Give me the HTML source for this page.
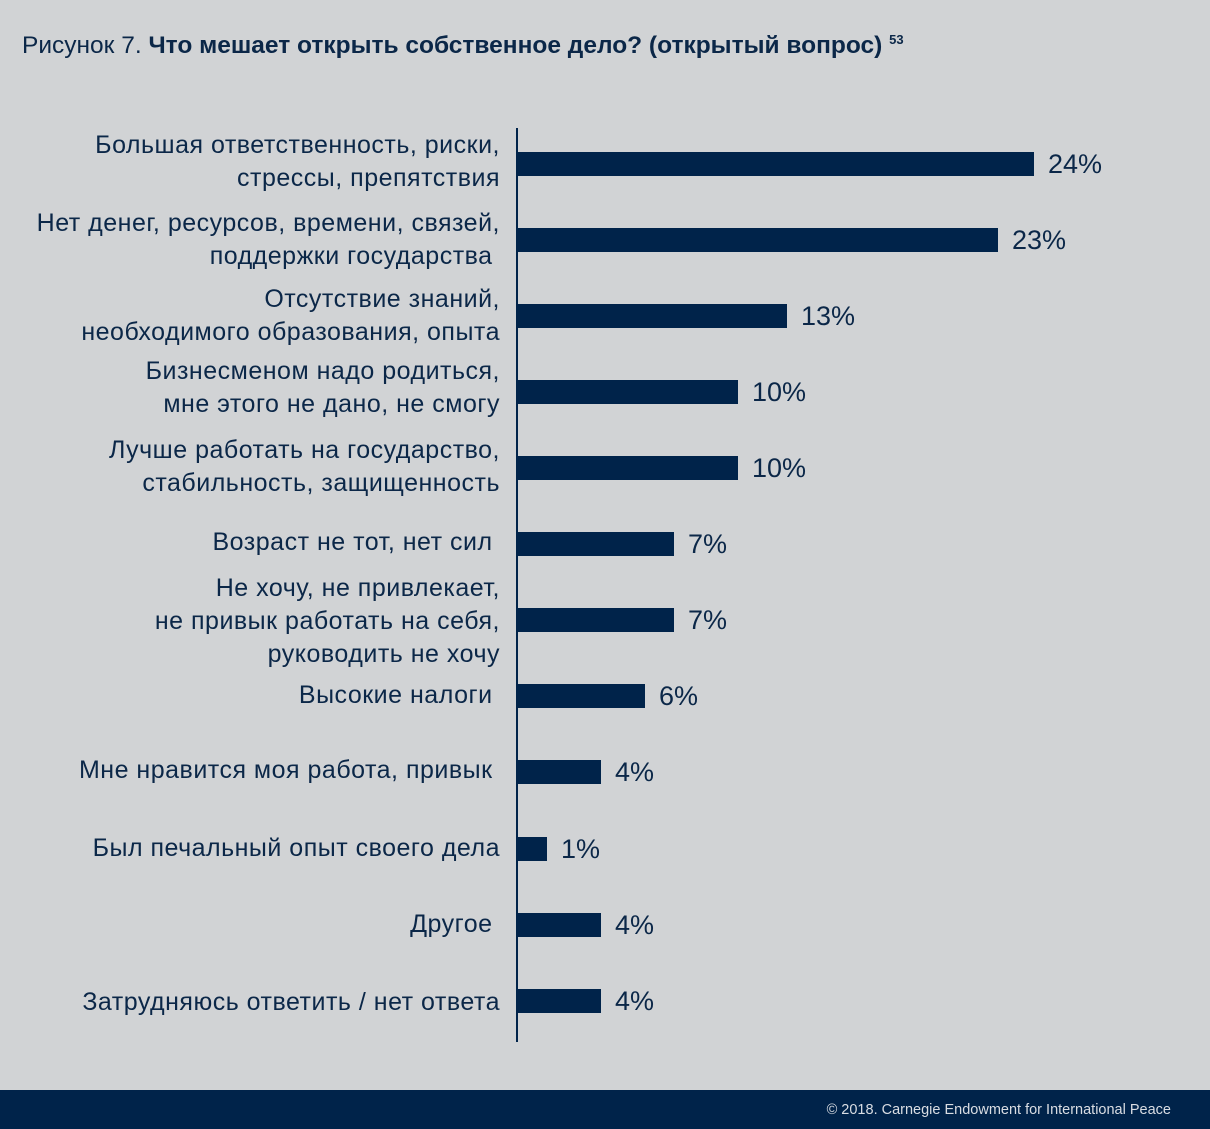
<!DOCTYPE html>
<html><head><meta charset="utf-8"><style>
body{margin:0;width:1210px;height:1129px;background:#d1d3d5;position:relative;overflow:hidden;font-family:"Liberation Sans","DejaVu Sans",sans-serif;color:#0b2748}
.t{position:absolute;left:22px;top:32px;font-size:24.5px;white-space:nowrap}
.l{position:absolute;right:710px;width:520px;height:120px;display:flex;align-items:center;justify-content:flex-end;text-align:right;font-size:25px;letter-spacing:0.5px;line-height:33px;white-space:nowrap}
.b{position:absolute;left:517px;height:24px;background:#00234a}
.v{position:absolute;font-size:27px;height:30px;line-height:30px}
.ax{position:absolute;left:516px;top:128px;width:2px;height:914px;background:#00234a}
.f{position:absolute;left:0;top:1090px;width:1210px;height:39px;background:#00234a;color:#d9dde3;font-size:14.5px}
</style></head><body>
<div class="t">Рисунок 7. <b>Что мешает открыть собственное дело? (открытый вопрос)</b> <sup style="font-size:13px;font-weight:bold">53</sup></div>
<div class="ax"></div>

<div class="l" style="top:102px">Большая ответственность, риски,<br>стрессы, препятствия</div>
<div class="b" style="top:152px;width:517px"></div><div class="v" style="left:1048px;top:149px">24%</div>

<div class="l" style="top:180px">Нет денег, ресурсов, времени, связей,<br>поддержки государства&nbsp;</div>
<div class="b" style="top:228px;width:481px"></div><div class="v" style="left:1012px;top:225px">23%</div>

<div class="l" style="top:256px">Отсутствие знаний,<br>необходимого образования, опыта</div>
<div class="b" style="top:304px;width:270px"></div><div class="v" style="left:801px;top:301px">13%</div>

<div class="l" style="top:328px">Бизнесменом надо родиться,<br>мне этого не дано, не смогу</div>
<div class="b" style="top:380px;width:221px"></div><div class="v" style="left:752px;top:377px">10%</div>

<div class="l" style="top:407px">Лучше работать на государство,<br>стабильность, защищенность</div>
<div class="b" style="top:456px;width:221px"></div><div class="v" style="left:752px;top:453px">10%</div>

<div class="l" style="top:482px">Возраст не тот, нет сил&nbsp;</div>
<div class="b" style="top:532px;width:157px"></div><div class="v" style="left:688px;top:529px">7%</div>

<div class="l" style="top:561px">Не хочу, не привлекает,<br>не привык работать на себя,<br>руководить не хочу</div>
<div class="b" style="top:608px;width:157px"></div><div class="v" style="left:688px;top:605px">7%</div>

<div class="l" style="top:635px">Высокие налоги&nbsp;</div>
<div class="b" style="top:684px;width:128px"></div><div class="v" style="left:659px;top:681px">6%</div>

<div class="l" style="top:710px">Мне нравится моя работа, привык&nbsp;</div>
<div class="b" style="top:760px;width:84px"></div><div class="v" style="left:615px;top:757px">4%</div>

<div class="l" style="top:788px">Был печальный опыт своего дела</div>
<div class="b" style="top:837px;width:30px"></div><div class="v" style="left:561px;top:834px">1%</div>

<div class="l" style="top:864px">Другое&nbsp;</div>
<div class="b" style="top:913px;width:84px"></div><div class="v" style="left:615px;top:910px">4%</div>

<div class="l" style="top:942px">Затрудняюсь ответить / нет ответа</div>
<div class="b" style="top:989px;width:84px"></div><div class="v" style="left:615px;top:986px">4%</div>

<div class="f"><span style="position:absolute;right:39px;top:12px">© 2018. Carnegie Endowment for International Peace</span></div>
</body></html>
